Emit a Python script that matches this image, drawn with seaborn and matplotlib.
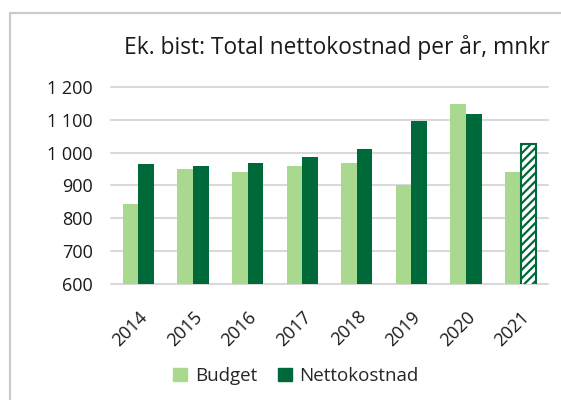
import matplotlib
matplotlib.use("Agg")
import matplotlib.pyplot as plt
import matplotlib.ticker as mticker
from matplotlib.lines import Line2D
import seaborn as sns
import pandas as pd

years = ["2014", "2015", "2016", "2017", "2018", "2019", "2020", "2021"]
budget = [844, 950, 940, 958, 970, 900, 1148, 940]
netto = [967, 958, 970, 986, 1011, 1097, 1119, 1026]
series = ["Budget", "Nettokostnad"]
title = "Ek. bist: Total nettokostnad per år, mnkr"
yticks = [600, 700, 800, 900, 1000, 1100, 1200]

LIGHT = "#A9D98E"
DARK = "#00693A"

df = pd.DataFrame({
    "År": years * 2,
    "Värde": budget + netto,
    "Serie": [series[0]] * len(years) + [series[1]] * len(years),
})

sns.set_theme(style="white")
plt.rcParams["font.family"] = ["Open Sans", "DejaVu Sans"]
plt.rcParams["hatch.linewidth"] = 1.6

fig = plt.figure(figsize=(5.61, 4.0), dpi=100)
ax = fig.add_axes([111 / 561, 1 - 284 / 400, (548 - 111) / 561, (284 - 87) / 400])

sns.barplot(data=df, x="År", y="Värde", hue="Serie", hue_order=series,
            palette=[LIGHT, DARK], width=0.57, saturation=1, ax=ax,
            legend=False, linewidth=0, zorder=3)

# forecast bar hatched
p = ax.containers[1][len(years) - 1]
p.set_facecolor("white")
p.set_edgecolor(DARK)
p.set_hatch("////")
p.set_linewidth(1.5)

ax.set_ylim(600, 1200)
ax.set_yticks(yticks)
ax.yaxis.set_major_formatter(mticker.FuncFormatter(lambda v, _: f"{int(v):,}".replace(",", " ")))
ax.grid(axis="y", color="#D9D9D9", linewidth=1.5, zorder=0)
for gl in ax.get_ygridlines():
    gl.set_clip_on(False)
for s in ax.spines.values():
    s.set_visible(False)
ax.set_xlabel("")
ax.set_ylabel("")
ax.tick_params(axis="y", length=0, pad=13, labelsize=13, labelcolor="#1a1a1a")
ax.tick_params(axis="x", length=0, pad=17, labelsize=13, labelcolor="#1a1a1a")
for lbl in ax.get_xticklabels():
    lbl.set_rotation(45)
    lbl.set_ha("right")
    lbl.set_rotation_mode("anchor")

fig.text(550 / 561, 1 - 47 / 400, title, ha="right", va="center", fontsize=16.4, color="#1a1a1a")

handles = [plt.Rectangle((0, 0), 1, 1, color=LIGHT), plt.Rectangle((0, 0), 1, 1, color=DARK)]
fig.legend(handles, series, loc="center", bbox_to_anchor=(296 / 561, 1 - 376 / 400), ncol=2,
           frameon=False, fontsize=13.5, handlelength=0.75, handleheight=0.75, handletextpad=0.4,
           columnspacing=1.1)

# outer chart border (top & left)
fig.add_artist(Line2D([9.5 / 561, 9.5 / 561], [0, 1 - 12.5 / 400], transform=fig.transFigure,
                      color="#C8CBCB", linewidth=1.6))
fig.add_artist(Line2D([9.5 / 561, 1], [1 - 12.5 / 400, 1 - 12.5 / 400], transform=fig.transFigure,
                      color="#C8CBCB", linewidth=1.6))

fig.savefig("out.png", dpi=100)
